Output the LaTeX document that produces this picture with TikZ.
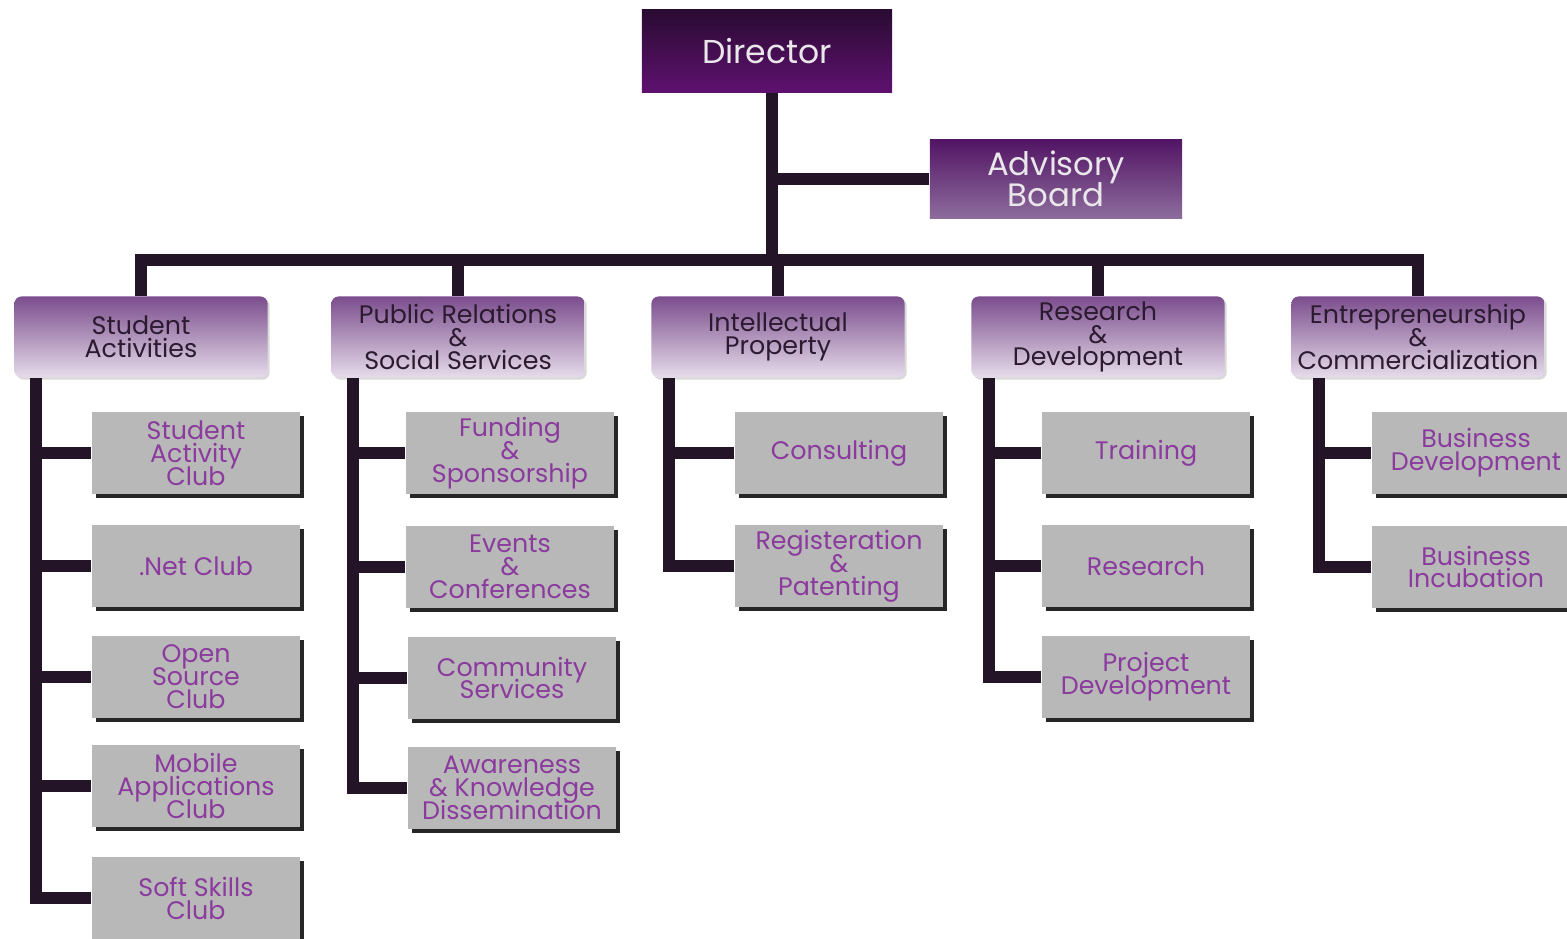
\documentclass[tikz,border=0pt]{standalone}
\usepackage{fontspec}
\setmainfont{Poppins}
\usetikzlibrary{positioning, shadows}
\AtBeginDocument{\lineskiplimit=-20pt\relax}
\definecolor{linkcol}{HTML}{231428}
\definecolor{dirtop}{HTML}{2A0B32}
\definecolor{dirbot}{HTML}{5E116F}
\definecolor{advtop}{HTML}{531565}
\definecolor{advbot}{HTML}{8C6C9C}
\definecolor{depttop}{HTML}{7B4D8D}
\definecolor{deptbot}{HTML}{E6DCEA}
\definecolor{depttext}{HTML}{2B1A30}
\definecolor{unitfill}{HTML}{B8B8B8}
\definecolor{unittext}{HTML}{8B3A9E}
\tikzset{
head/.style={top color=dirtop, bottom color=dirbot, text=white!90!dirtop, minimum width=2.5cm, minimum height=0.82cm, inner sep=0pt, align=center, font=\fontsize{9.4}{7.6}\selectfont},
board/.style={head, top color=advtop, bottom color=advbot, minimum width=2.52cm, minimum height=0.78cm, font=\fontsize{9.2}{8.8}\selectfont},
dept/.style={rounded corners=2pt, top color=depttop, bottom color=deptbot, text=depttext, minimum width=2.53cm, minimum height=0.81cm, inner sep=0pt, align=center, drop shadow={shadow xshift=0.6pt, shadow yshift=-0.6pt, fill=black!15, opacity=1}, font=\fontsize{7.2}{6.5}\selectfont},
unit/.style={fill=unitfill, text=unittext, minimum width=2.08cm, minimum height=0.82cm, inner sep=0pt, align=center, drop shadow={shadow xshift=1.1pt, shadow yshift=-1.1pt, fill=black!85, opacity=1}, font=\fontsize{7.2}{6.5}\selectfont},
link/.style={draw=linkcol, line width=3.4pt, line join=miter},
}
\begin{document}
\begin{tikzpicture}[x=0.01cm, y=-0.01cm]
    \useasboundingbox (0,0) rectangle (1567,938);
    \clip (0,0) rectangle (1567,938);

    %top
    \node[head] (dir) at (767,51) {Director};
    \node[board] (adv) at (1056,179) {Advisory\\Board};
    \coordinate (bar) at (0,260);

    %departments
    \node[dept] (sa) at (141,337) {Student\\Activities};
    \node[dept] (pr) at (458,337) {Public Relations\\\&\\Social Services};
    \node[dept] (ip) at (778,337) {Intellectual\\Property};
    \node[dept] (rd) at (1098,337) {Research\\\&\\Development};
    \node[dept] (ec) at (1418,337) {Entrepreneurship\\\&\\Commercialization};

    %units
    \node[unit] (sa1) at (196,453) {Student\\Activity\\Club};
    \node[unit] (sa2) at (196,566) {.Net Club};
    \node[unit] (sa3) at (196,677) {Open\\Source\\Club};
    \node[unit] (sa4) at (196,786) {Mobile\\Applications\\Club};
    \node[unit] (sa5) at (196,898) {Soft Skills\\Club};

    \node[unit] (pr1) at (510,453) {Funding\\\&\\Sponsorship};
    \node[unit] (pr2) at (510,567) {Events\\\&\\Conferences};
    \node[unit] (pr3) at (512,678) {Community\\Services};
    \node[unit] (pr4) at (512,788) {Awareness\\\& Knowledge\\Dissemination};

    \node[unit] (ip1) at (839,453) {Consulting};
    \node[unit] (ip2) at (839,566) {Registeration\\\&\\Patenting};

    \node[unit] (rd1) at (1146,453) {Training};
    \node[unit] (rd2) at (1146,566) {Research};
    \node[unit] (rd3) at (1146,677) {Project\\Development};

    \node[unit] (ec1) at (1476,453) {Business\\Development};
    \node[unit] (ec2) at (1476,567) {Business\\Incubation};

    %connectors
    \draw[link] ([xshift=.05cm]dir.south) -- ([xshift=.05cm]dir.south |- bar);
    \draw[link] ([xshift=.05cm]dir.south |- adv.west) -- (adv.west);
    \draw[link] (sa.north) -- (sa.north |- bar) -- (ec.north |- bar) -- (ec.north);
    \foreach \d in {pr,ip,rd}
        \draw[link] (\d.north) -- (\d.north |- bar);

    \foreach \n in {1,...,5}
        \draw[link] ([xshift=.22cm]sa.south west) |- (sa\n.west);
    \foreach \n in {1,...,4}
        \draw[link] ([xshift=.22cm]pr.south west) |- (pr\n.west);
    \foreach \n in {1,2}
        \draw[link] ([xshift=.18cm]ip.south west) |- (ip\n.west);
    \foreach \n in {1,...,3}
        \draw[link] ([xshift=.18cm]rd.south west) |- (rd\n.west);
    \foreach \n in {1,2}
        \draw[link] ([xshift=.28cm]ec.south west) |- (ec\n.west);

\end{tikzpicture}
\end{document}
